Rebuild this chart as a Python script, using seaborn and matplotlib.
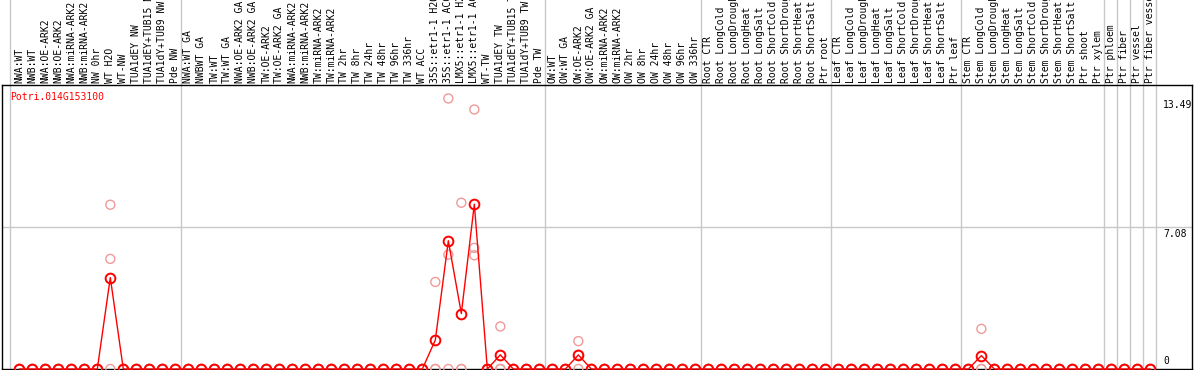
import matplotlib
matplotlib.use("Agg")
import matplotlib.pyplot as plt
import numpy as np
import pandas as pd
import seaborn as sns

gene = "Potri.014G153100"

labels = [
    # group 1
    "NWA:WT", "NWB:WT", "NWA:OE-ARK2", "NWB:OE-ARK2", "NWA:miRNA-ARK2",
    "NWB:miRNA-ARK2", "NW 0hr", "WT H2O", "WT-NW", "TUA1dEY NW",
    "TUA1dEY+TUB15 NW", "TUA1dY+TUB9 NW", "Pde NW",
    # group 2
    "NWA:WT GA", "NWBWT GA", "TW:WT", "TW:WT GA", "NWA:OE-ARK2 GA",
    "NWB:OE-ARK2 GA", "TW:OE-ARK2", "TW:OE-ARK2 GA", "NWA:miRNA-ARK2",
    "NWB:miRNA-ARK2", "TW:miRNA-ARK2", "TW:miRNA-ARK2", "TW 2hr", "TW 8hr",
    "TW 24hr", "TW 48hr", "TW 96hr", "TW 336hr", "WT ACC",
    "35S::etr1-1 H2O", "35S::etr1-1 ACC", "LMX5::etr1-1 H2O",
    "LMX5::etr1-1 ACC", "WT-TW", "TUA1dEY TW", "TUA1dEY+TUB15 TW",
    "TUA1dY+TUB9 TW", "Pde TW",
    # group 3
    "OW:WT", "OW:WT GA", "OW:OE-ARK2", "OW:OE-ARK2 GA", "OW:miRNA-ARK2",
    "OW:miRNA-ARK2", "OW 2hr", "OW 8hr", "OW 24hr", "OW 48hr", "OW 96hr",
    "OW 336hr",
    # roots
    "Root CTR", "Root LongCold", "Root LongDrought", "Root LongHeat",
    "Root LongSalt", "Root ShortCold", "Root ShortDrought", "Root ShortHeat",
    "Root ShortSalt", "Ptr root",
    # leaves
    "Leaf CTR", "Leaf LongCold", "Leaf LongDrought", "Leaf LongHeat",
    "Leaf LongSalt", "Leaf ShortCold", "Leaf ShortDrought", "Leaf ShortHeat",
    "Leaf ShortSalt", "Ptr leaf",
    # stems
    "Stem CTR", "Stem LongCold", "Stem LongDrought", "Stem LongHeat",
    "Stem LongSalt", "Stem ShortCold", "Stem ShortDrought", "Stem ShortHeat",
    "Stem ShortSalt", "Ptr shoot", "Ptr xylem",
    "Ptr phloem", "Ptr fiber", "Ptr vessel", "Ptr fiber vessel",
]

group_sizes = [13, 28, 12, 10, 10, 11, 1, 1, 1, 1]

rep1 = [
    0, 0, 0, 0, 0, 0, 0, 8.19, 0, 0, 0, 0, 0,
    0, 0, 0, 0, 0, 0, 0, 0, 0, 0, 0, 0, 0, 0, 0, 0, 0, 0, 0, 4.34, 13.49, 8.29, 12.94, 0, 2.12, 0, 0, 0,
    0, 0, 1.39, 0, 0, 0, 0, 0, 0, 0, 0, 0,
    0, 0, 0, 0, 0, 0, 0, 0, 0, 0,
    0, 0, 0, 0, 0, 0, 0, 0, 0, 0,
    0, 2.0, 0, 0, 0, 0, 0, 0, 0, 0, 0,
    0, 0, 0, 0,
]
rep2 = [
    0, 0, 0, 0, 0, 0, 0, 5.49, 0, 0, 0, 0, 0,
    0, 0, 0, 0, 0, 0, 0, 0, 0, 0, 0, 0, 0, 0, 0, 0, 0, 0, 0, 0, 5.70, 0, 6.04, 0, 0, 0, 0, 0,
    0, 0, 0.71, 0, 0, 0, 0, 0, 0, 0, 0, 0,
    0, 0, 0, 0, 0, 0, 0, 0, 0, 0,
    0, 0, 0, 0, 0, 0, 0, 0, 0, 0,
    0, 0, 0, 0, 0, 0, 0, 0, 0, 0, 0,
    0, 0, 0, 0,
]
rep3 = [
    0, 0, 0, 0, 0, 0, 0, 0, 0, 0, 0, 0, 0,
    0, 0, 0, 0, 0, 0, 0, 0, 0, 0, 0, 0, 0, 0, 0, 0, 0, 0, 0, 0, 0, 0, 5.67, 0, 0, 0, 0, 0,
    0, 0, 0, 0, 0, 0, 0, 0, 0, 0, 0, 0,
    0, 0, 0, 0, 0, 0, 0, 0, 0, 0,
    0, 0, 0, 0, 0, 0, 0, 0, 0, 0,
    0, 0, 0, 0, 0, 0, 0, 0, 0, 0, 0,
    0, 0, 0, 0,
]

y_marks = [13.49, 7.08, 0]
y_top = 14.16

pos = np.arange(len(labels))
df = pd.DataFrame({
    "pos": np.tile(pos, 3),
    "value": rep1 + rep2 + rep3,
    "rep": np.repeat([1, 2, 3], len(labels)),
})

sns.set_style("white")
plt.rcParams["font.family"] = ["DejaVu Sans Mono"]
plt.rcParams["text.color"] = "black"
plt.rcParams["xtick.color"] = "black"
plt.rcParams["xtick.labelcolor"] = "black"

fig = plt.figure(figsize=(11.94, 3.70), dpi=100)
ax = fig.add_axes([2 / 1194, 1 / 370, 1190 / 1194, 284 / 370])

# replicates (pale), then mean line
sns.scatterplot(data=df, x="pos", y="value", ax=ax, marker="o", s=42,
                facecolor="none", edgecolor="#f09a9a", linewidth=1.0,
                zorder=3, clip_on=False)
sns.lineplot(data=df, x="pos", y="value", ax=ax, estimator="mean",
             errorbar=None, color="red", lw=1.0, marker="o", markersize=7,
             markerfacecolor="none", markeredgecolor="red",
             markeredgewidth=1.4, zorder=4, clip_on=False)

ax.set_xlim(-1.33, 90.2)
ax.set_ylim(0, y_top)

# group separators
bounds = [-0.7] + list(np.cumsum(group_sizes) - 0.58)
for b in bounds:
    ax.axvline(b, ymin=0, ymax=369 / 284, color="#c8c8c8", lw=1,
               clip_on=False, zorder=0)
ax.axhline(y_marks[1], color="#c8c8c8", lw=1, zorder=0)

ax.xaxis.set_ticks_position("top")
ax.set_xticks(pos)
ax.set_xticklabels(labels, rotation=90, fontsize=7, color="black")
ax.tick_params(axis="x", length=0, pad=1.5)
ax.set_yticks([])
ax.set_xlabel("")
ax.set_ylabel("")

for sp in ax.spines.values():
    sp.set_color("black")
    sp.set_linewidth(1)

ax.text(0.0067, 0.975, gene, color="red", transform=ax.transAxes,
        va="top", ha="left", fontsize=7)

tr = ax.get_yaxis_transform()
for v in y_marks:
    if v == 0:
        ax.text(0.9756, v + 0.16, "0", transform=tr, va="bottom", ha="left",
                fontsize=7, color="black")
    else:
        ax.text(0.9756, v - 0.1, f"{v:.2f}", transform=tr, va="top", ha="left",
                fontsize=7, color="black")

fig.savefig("out.png", dpi=100)
